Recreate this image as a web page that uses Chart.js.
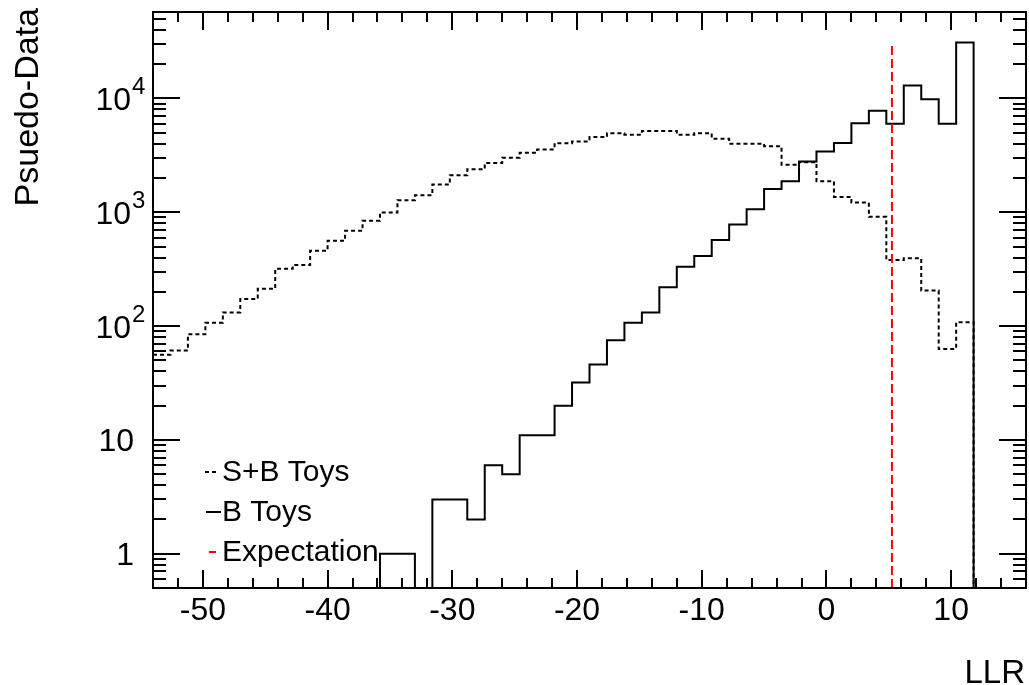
<!DOCTYPE html>
<html>
<head>
<meta charset="utf-8">
<title>LLR pseudo-data</title>
<script src="https://cdn.jsdelivr.net/npm/chart.js@4.4.1/dist/chart.umd.min.js"></script>
<style>
    html, body { margin: 0; padding: 0; background: #fff; }
    #wrap { position: relative; width: 1029px; height: 685px; }
</style>
</head>
<body>
<div id="wrap"><canvas id="llrChart"></canvas></div>
<script>
// Histogram range on the LLR axis
const LLR_MIN = -54;
const LLR_MAX = 16;
const N_BINS = 50;
const BIN_WIDTH = (LLR_MAX - LLR_MIN) / N_BINS;

// Entries per bin, left to right
const sbToys = [
    56, 61, 85, 107, 132, 173, 213, 319, 344, 459,
    562, 687, 841, 996, 1277, 1413, 1751, 2113, 2384, 2710,
    3020, 3340, 3570, 4050, 4195, 4575, 4955, 4800, 5165, 5165,
    4800, 4955, 4430, 4000, 4000, 3812, 2622, 2750, 1872, 1365,
    1218, 912, 381, 394, 205, 63, 108, 0, 0, 0
];
const bToys = [
    0, 0, 0, 0, 0, 0, 0, 0, 0, 0,
    0, 0, 0, 1, 1, 0, 3, 3, 2, 6,
    5, 11, 11, 20, 32, 46, 75, 107, 132, 219,
    332, 413, 570, 782, 1065, 1603, 1872, 2800, 3428, 4052,
    6070, 7786, 5995, 12970, 9840, 5995, 31000, 0, 0, 0
];

// Expected LLR
const expectationLLR = 5.25;

// Axis ticks
const xTickValues = [-50, -40, -30, -20, -10, 0, 10];
const xTickLabels = ['-50', '-40', '-30', '-20', '-10', '0', '10'];
const yTickValues = [1, 10, 100, 1000, 10000];
const yTickLabels = ['1', '10', '10^2', '10^3', '10^4'];

const Y_MIN = 0.5;
const Y_MAX = 57500;
const EMPTY = 1e-3;   // empty bins sit below the axis and get clipped

const FONT = '"Liberation Sans", Arial, Helvetica, sans-serif';

// bin low edges + closing edge, for a stepped line
function histPoints(counts) {
    const pts = counts.map((c, i) => ({ x: LLR_MIN + i * BIN_WIDTH, y: c > 0 ? c : EMPTY }));
    pts.push({ x: LLR_MAX, y: EMPTY });
    return pts;
}

const bMax = Math.max(...bToys);

// ROOT style frame: ticks inside on all four sides, labels, titles, legend
const rootFrame = {
    id: 'rootFrame',
    afterDraw(chart) {
        const { ctx, chartArea: a, scales: { x, y } } = chart;
        ctx.save();
        ctx.strokeStyle = '#000';
        ctx.fillStyle = '#000';
        ctx.lineWidth = 2;
        ctx.setLineDash([]);
        ctx.strokeRect(a.left, a.top, a.right - a.left, a.bottom - a.top);

        ctx.beginPath();
        for (let v = LLR_MIN + 2; v < LLR_MAX; v += 2) {
            const px = Math.round(x.getPixelForValue(v));
            const len = v % 10 === 0 ? 18 : 10;
            ctx.moveTo(px, a.bottom); ctx.lineTo(px, a.bottom - len);
            ctx.moveTo(px, a.top); ctx.lineTo(px, a.top + len);
        }
        for (let d = -1; d <= 4; d++) {
            for (let m = 1; m <= 9; m++) {
                const v = m * Math.pow(10, d);
                if (v <= Y_MIN || v >= Y_MAX) continue;
                const py = Math.round(y.getPixelForValue(v));
                const len = m === 1 ? 27 : 13;
                ctx.moveTo(a.left, py); ctx.lineTo(a.left + len, py);
                ctx.moveTo(a.right, py); ctx.lineTo(a.right - len, py);
            }
        }
        ctx.stroke();

        // x tick labels
        ctx.font = '32px ' + FONT;
        ctx.textAlign = 'center';
        ctx.textBaseline = 'alphabetic';
        xTickValues.forEach((v, i) => {
            ctx.fillText(xTickLabels[i], x.getPixelForValue(v), 620);
        });

        // y tick labels, powers of ten with a raised exponent
        yTickValues.forEach((v, i) => {
            const py = y.getPixelForValue(v);
            const [base, exp] = yTickLabels[i].split('^');
            ctx.font = '32px ' + FONT;
            ctx.textAlign = 'right';
            if (exp === undefined) {
                ctx.fillText(base, 134, py + 11);
            } else {
                ctx.fillText(base, 131, py + 12);
                ctx.font = '24px ' + FONT;
                ctx.textAlign = 'left';
                ctx.fillText(exp, 132, py - 4);
            }
        });

        // axis titles
        ctx.font = '34px ' + FONT;
        ctx.save();
        ctx.translate(38, 8);
        ctx.rotate(-Math.PI / 2);
        ctx.textAlign = 'right';
        ctx.fillText('Psuedo-Data', 0, 0);
        ctx.restore();
        ctx.font = '33px ' + FONT;
        ctx.textAlign = 'right';
        ctx.fillText('LLR', 1025, 683);

        // legend
        const entries = [
            { label: 'S+B Toys', color: '#000', dash: [4, 3], x0: 205, x1: 218, y: 472 },
            { label: 'B Toys', color: '#000', dash: [], x0: 206, x1: 221, y: 512 },
            { label: 'Expectation', color: '#ff0000', dash: [], x0: 209, x1: 216, y: 552 }
        ];
        entries.forEach(e => {
            ctx.strokeStyle = e.color;
            ctx.lineWidth = 2;
            ctx.setLineDash(e.dash);
            ctx.beginPath();
            ctx.moveTo(e.x0, e.y); ctx.lineTo(e.x1, e.y);
            ctx.stroke();
            ctx.setLineDash([]);
            ctx.font = '30px ' + FONT;
            ctx.textAlign = 'left';
            ctx.fillStyle = '#000';
            ctx.fillText(e.label, 222, e.y + 9);
        });
        ctx.restore();
    }
};

document.addEventListener('DOMContentLoaded', function() {
    const ctx = document.getElementById('llrChart').getContext('2d');
    new Chart(ctx, {
        type: 'line',
        data: {
            datasets: [{
                label: 'Expectation',
                data: [{ x: expectationLLR, y: Y_MIN }, { x: expectationLLR, y: bMax }],
                borderColor: '#ff0000',
                borderWidth: 2,
                borderDash: [9, 4],
                pointRadius: 0,
                fill: false
            }, {
                label: 'B Toys',
                data: histPoints(bToys),
                borderColor: '#000',
                borderWidth: 2,
                stepped: true,
                pointRadius: 0,
                fill: false
            }, {
                label: 'S+B Toys',
                data: histPoints(sbToys),
                borderColor: '#000',
                borderWidth: 2,
                borderDash: [4, 3],
                stepped: true,
                pointRadius: 0,
                fill: false
            }]
        },
        options: {
            responsive: true,
            maintainAspectRatio: false,
            animation: false,
            layout: {
                padding: { left: 153, top: 12, right: 3, bottom: 97 }
            },
            plugins: {
                legend: { display: false },
                tooltip: { enabled: false }
            },
            scales: {
                x: { type: 'linear', min: LLR_MIN, max: LLR_MAX, display: false },
                y: { type: 'logarithmic', min: Y_MIN, max: Y_MAX, display: false }
            }
        },
        plugins: [rootFrame]
    });
});
</script>
</body>
</html>
